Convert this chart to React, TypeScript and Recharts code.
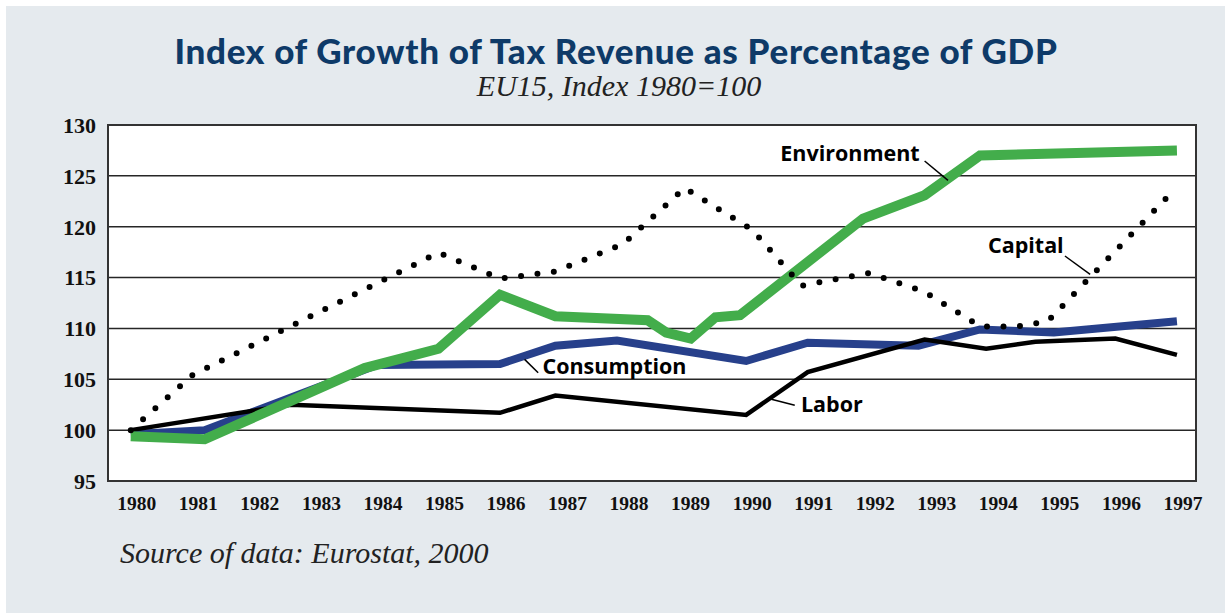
import { LineChart, Line, XAxis, YAxis, CartesianGrid, ReferenceArea, ReferenceLine, ReferenceDot } from 'recharts';

const YEARS = [1980, 1981, 1982, 1983, 1984, 1985, 1986, 1987, 1988, 1989, 1990, 1991, 1992, 1993, 1994, 1995, 1996, 1997];
const Y_TICKS = [95, 100, 105, 110, 115, 120, 125, 130];

// series; some breaks fall between years
const ENV_YEARS = [1980, 1981.2, 1983.8, 1985, 1986, 1986.9, 1988.4, 1988.7, 1989.1, 1989.5, 1989.9, 1991.9, 1992.9, 1993.8, 1997];
const ENV_VALUES = [99.4, 99.1, 106.1, 108.0, 113.3, 111.2, 110.8, 109.6, 109.0, 111.1, 111.3, 120.8, 123.1, 127.0, 127.5];

const CONS_YEARS = [1980, 1981.2, 1984, 1986, 1986.9, 1987.9, 1990, 1991, 1992.8, 1993.8, 1995, 1997];
const CONS_VALUES = [99.6, 100.0, 106.4, 106.5, 108.3, 108.8, 106.8, 108.6, 108.3, 109.9, 109.6, 110.7];

const LABOR_YEARS = [1980, 1982.6, 1986, 1986.9, 1990, 1991, 1992.9, 1993.9, 1994.7, 1996, 1997];
const LABOR_VALUES = [100, 102.5, 101.7, 103.4, 101.5, 105.7, 108.9, 108.0, 108.7, 109.0, 107.4];

const CAP_YEARS = [1980, 1981, 1985, 1986, 1986.9, 1988, 1989, 1990.1, 1990.9, 1992, 1992.9, 1993.8, 1994.4, 1994.9, 1997];
const CAP_VALUES = [100, 105.4, 117.45, 114.9, 115.6, 118.3, 123.8, 119.7, 114.2, 115.45, 113.6, 110.2, 110.2, 110.7, 123.9];

const X_DOMAIN = [1979.63, 1997.31];

const toPoints = (xs: number[], ys: number[]) => xs.map((x, i) => ({ x, v: ys[i] }));

const env = toPoints(ENV_YEARS, ENV_VALUES);
const cons = toPoints(CONS_YEARS, CONS_VALUES);
const labor = toPoints(LABOR_YEARS, LABOR_VALUES);
const capital = toPoints(CAP_YEARS, CAP_VALUES);

// series names placed in data units, with their leader lines
const notes = [
  { text: 'Environment', x: 1992.82, y: 126.43, anchor: 'end', from: { x: 1992.9, y: 126.46 }, to: { x: 1993.28, y: 124.56 } },
  { text: 'Capital', x: 1995.16, y: 117.38, anchor: 'end', from: { x: 1995.18, y: 117.12 }, to: { x: 1995.59, y: 115.32 } },
  { text: 'Consumption', x: 1986.69, y: 105.49, anchor: 'start', from: { x: 1986.4, y: 106.96 }, to: { x: 1986.62, y: 105.65 } },
  { text: 'Labor', x: 1990.89, y: 101.78, anchor: 'start', from: { x: 1990.41, y: 103.03 }, to: { x: 1990.79, y: 102.44 } },
];

const labelFont = '"Open Sans", Lato, sans-serif';
const serif = '"Liberation Serif", "DejaVu Serif", serif';

export default function App() {
  return (
    <div style={{ position: 'absolute', left: 0, top: 0, width: 1225, height: 613, background: '#fff', overflow: 'hidden' }}>
      <div style={{ position: 'absolute', left: 6, top: 6, width: 1219, height: 607, background: '#e5eaee' }} />
      <svg width={1225} height={613} style={{ position: 'absolute', left: 0, top: 0 }}>
        <text x={616} y={64} textAnchor="middle" fontFamily="Lato, sans-serif" fontWeight={900} fontSize={35} letterSpacing={0.7} fill="#0e3a68">
          Index of Growth of Tax Revenue as Percentage of GDP
        </text>
        <text x={619} y={96} textAnchor="middle" fontFamily={serif} fontStyle="italic" fontSize={30} fill="#222">
          EU15, Index 1980=100
        </text>
        <text x={120} y={563} fontFamily={serif} fontStyle="italic" fontSize={30} fill="#222">
          Source of data: Eurostat, 2000
        </text>
      </svg>
      <div style={{ position: 'absolute', left: 0, top: 0 }}>
        <LineChart width={1225} height={613} margin={{ top: 125, right: 29, bottom: 102, left: 0 }}>
          <CartesianGrid vertical={false} fill="#fff" stroke="#262626" strokeWidth={1.5} />
          <XAxis
            dataKey="x"
            type="number"
            domain={X_DOMAIN}
            allowDataOverflow
            ticks={YEARS}
            interval={0}
            height={30}
            axisLine={false}
            tickLine={false}
            tickSize={0}
            tickMargin={15}
            tick={{ fontFamily: serif, fontWeight: 700, fontSize: 19.5, fill: '#111', dx: 6 }}
          />
          <YAxis
            dataKey="v"
            type="number"
            domain={[95, 130]}
            ticks={Y_TICKS}
            interval={0}
            width={108}
            axisLine={false}
            tickLine={false}
            tickSize={0}
            tickMargin={12}
            tick={{ fontFamily: serif, fontWeight: 700, fontSize: 22, fill: '#111' }}
          />
          <ReferenceArea x1={X_DOMAIN[0]} x2={X_DOMAIN[1]} y1={95} y2={130} fill="none" stroke="#333" strokeWidth={2} />
          <Line data={cons} dataKey="v" type="linear" stroke="#27408b" strokeWidth={8} dot={false} activeDot={false} isAnimationActive={false} />
          <Line data={labor} dataKey="v" type="linear" stroke="#000" strokeWidth={4.5} dot={false} activeDot={false} isAnimationActive={false} />
          <Line data={env} dataKey="v" type="linear" stroke="#43ad4b" strokeWidth={10} dot={false} activeDot={false} isAnimationActive={false} />
          <Line
            data={capital}
            dataKey="v"
            type="linear"
            stroke="#000"
            strokeWidth={6}
            strokeDasharray="0 16.5"
            strokeLinecap="round"
            dot={false}
            activeDot={false}
            isAnimationActive={false}
          />
          {notes.map((n) => (
            <ReferenceLine key={n.text + '-leader'} segment={[n.from, n.to]} stroke="#000" strokeWidth={1.5} />
          ))}
          {notes.map((n) => (
            <ReferenceDot
              key={n.text}
              x={n.x}
              y={n.y}
              r={0}
              shape={(p: any) => (
                <text x={p.cx} y={p.cy} textAnchor={n.anchor} fontFamily={labelFont} fontWeight={700} fontSize={21.5} fill="#000">
                  {n.text}
                </text>
              )}
            />
          ))}
        </LineChart>
      </div>
    </div>
  );
}
